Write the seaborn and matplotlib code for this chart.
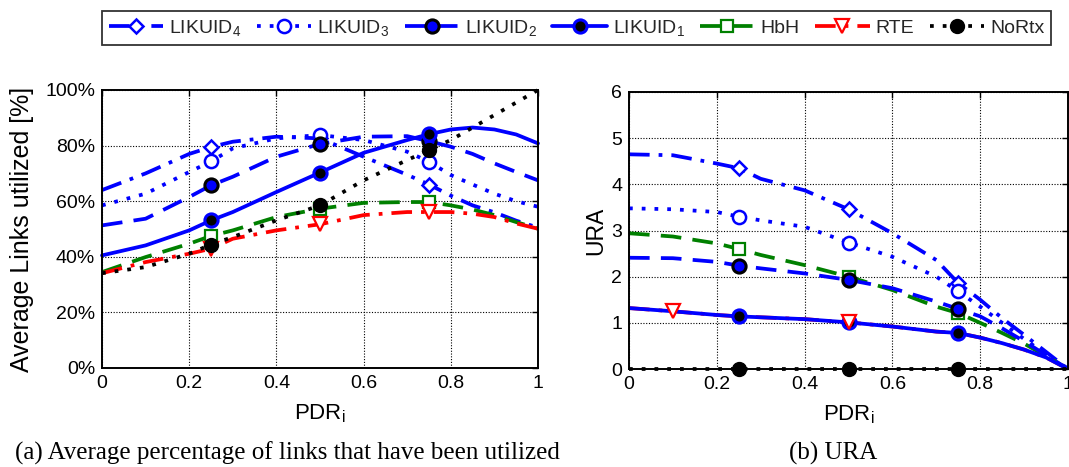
import numpy as np
import pandas as pd
import matplotlib
matplotlib.use("Agg")
import matplotlib.pyplot as plt
import seaborn as sns
from matplotlib.ticker import FuncFormatter

# ---------------- data ----------------
pdr = [0, 0.1, 0.2, 0.25, 0.3, 0.4, 0.5, 0.6, 0.7, 0.75, 0.8, 0.85, 0.9, 0.95, 1.0]

# (a) average links utilized [%]
links_likuid4 = [64, 70, 77, 79.5, 81.4, 83.2, 82.6, 76, 69.5, 66, 62, 58.5, 56, 53, 50.5]
links_likuid3 = [58.5, 62.7, 70.5, 74.3, 79, 82.6, 83.8, 82, 77.8, 74.2, 69.4, 66, 62.7, 60, 58]
links_likuid2 = [51.3, 53.7, 61.5, 65.7, 68.8, 76, 80.6, 83.2, 83.4, 81.6, 79.6, 77, 73.6, 70.5, 67.5]
links_likuid1 = [40.5, 44.1, 49.5, 53.1, 56.1, 63.3, 70.3, 77.4, 82, 84.1, 85.8, 86.5, 85.8, 84, 80.8]
links_hbh = [34.5, 39.9, 44.7, 47.5, 49.5, 54.3, 57.3, 59.4, 59.7, 59.7, 58.5, 57, 55, 52.5, 50.1]
links_rte = [34.1, 38.1, 41.1, 42.9, 46.5, 49.5, 51.7, 55, 56.1, 56.1, 56.1, 55.5, 54.3, 52, 50.1]
links_nortx = [34.1, 36.3, 41.1, 44.4, 47.1, 53.1, 58.5, 67.5, 74.8, 78.4, 82, 86.5, 91, 95.5, 100]

# (b) URA
ura_likuid4 = [4.65, 4.63, 4.45, 4.35, 4.12, 3.87, 3.46, 2.94, 2.36, 1.86, 1.5, 1.1, 0.74, 0.37, 0]
ura_likuid3 = [3.48, 3.46, 3.4, 3.3, 3.22, 3.08, 2.74, 2.43, 2.0, 1.68, 1.35, 1.0, 0.65, 0.32, 0]
ura_likuid2 = [2.41, 2.4, 2.32, 2.24, 2.18, 2.07, 1.93, 1.75, 1.46, 1.3, 1.14, 0.88, 0.6, 0.3, 0]
ura_likuid1 = [1.32, 1.25, 1.17, 1.14, 1.12, 1.08, 1.01, 0.92, 0.81, 0.78, 0.68, 0.56, 0.42, 0.25, 0]
ura_hbh = [2.94, 2.87, 2.72, 2.6, 2.47, 2.25, 2.0, 1.71, 1.35, 1.21, 1.0, 0.78, 0.55, 0.28, 0]
ura_rte = [1.32, 1.25, 1.17, 1.14, 1.12, 1.08, 1.01, 0.92, 0.81, 0.78, 0.68, 0.56, 0.42, 0.25, 0]
ura_nortx = [0, 0, 0, 0, 0, 0, 0, 0, 0, 0, 0, 0, 0, 0, 0]

series_names = ["LIKUID$_4$", "LIKUID$_3$", "LIKUID$_2$", "LIKUID$_1$", "HbH", "RTE", "NoRtx"]
x_ticks = [0, 0.2, 0.4, 0.6, 0.8, 1.0]
links_ticks = [0, 20, 40, 60, 80, 100]
ura_ticks = [0, 1, 2, 3, 4, 5, 6]

# ---------------- style ----------------
sns.set_theme(style="white")
plt.rcParams["font.family"] = ["Liberation Sans", "DejaVu Sans"]
plt.rcParams["mathtext.fontset"] = "custom"
plt.rcParams["mathtext.rm"] = "Liberation Sans"
plt.rcParams["mathtext.it"] = "Liberation Sans:italic"
plt.rcParams["mathtext.bf"] = "Liberation Sans:bold"

BLUE = "#0000FF"
GREEN = "#008000"
RED = "#FF0000"
BLACK = "#000000"
LW = 2.7

DASH = (0, (5.5, 3))
DOT = (0, (1, 2.4))
DASHDOT = (0, (5.5, 2.4, 1, 2.4))

styles = [
    dict(color=BLUE, linestyle=DASHDOT, marker="D", markersize=7.5, mfc="white", mec=BLUE, mew=1.8),
    dict(color=BLUE, linestyle=DOT, marker="o", markersize=9.5, mfc="white", mec=BLUE, mew=1.8),
    dict(color=BLUE, linestyle=DASH, marker="o", markersize=9.5, mfc=BLUE, mec=BLACK, mew=2.2),
    dict(color=BLUE, linestyle="-", marker="o", markersize=9.5, mfc=BLACK, mec=BLUE, mew=2.2),
    dict(color=GREEN, linestyle=DASH, marker="s", markersize=8, mfc="white", mec=GREEN, mew=1.6),
    dict(color=RED, linestyle=DASHDOT, marker="v", markersize=10, mfc="white", mec=RED, mew=1.6),
    dict(color=BLACK, linestyle=DOT, marker="o", markersize=10, mfc=BLACK, mec=BLACK, mew=1.0),
]

mk = [3, 6, 9]

W, H = 1069, 467
fig = plt.figure(figsize=(W / 100, H / 100), dpi=100)
axL = fig.add_axes([102 / W, 1 - 368 / H, 436 / W, 278 / H])
axR = fig.add_axes([629 / W, 1 - 369 / H, 439 / W, 277 / H])

links_data = [links_likuid4, links_likuid3, links_likuid2, links_likuid1, links_hbh, links_rte, links_nortx]
handles = []
for name, ys, st in zip(series_names, links_data, styles):
    sns.lineplot(x=pdr, y=ys, ax=axL, linewidth=LW, markevery=mk, label=name,
                 clip_on=False, legend=False, **st)
    handles.append(axL.get_lines()[-1])

# right panel
ura_main = [ura_likuid4, ura_likuid3, ura_likuid2, ura_likuid1, ura_hbh]
# RTE line lies underneath LIKUID1
sns.lineplot(x=pdr, y=ura_rte, ax=axR, linewidth=LW, color=RED, linestyle=DASHDOT,
             zorder=1.5, legend=False)
order = [0, 1, 4, 2, 3]
for i in order:
    sns.lineplot(x=pdr, y=ura_main[i], ax=axR, linewidth=LW, markevery=mk,
                 clip_on=True, legend=False, zorder=2, **styles[i])
st = dict(styles[5]); st["linestyle"] = "none"
sns.lineplot(x=pdr, y=ura_rte, ax=axR, markevery=[1, 6], legend=False, zorder=3, **st)
sns.lineplot(x=pdr, y=ura_nortx, ax=axR, linewidth=LW, markevery=mk, clip_on=False,
             legend=False, zorder=3, **styles[6])

for ax in (axL, axR):
    ax.set_xlim(0, 1)
    ax.set_xticks(x_ticks)
    ax.xaxis.set_major_formatter(FuncFormatter(lambda v, p: "%g" % v))
    ax.tick_params(direction="in", top=True, right=True, length=4, width=1,
                   labelsize=14, pad=5, colors="black")
    ax.grid(True, color="black", linestyle=(0, (1, 1.5)), linewidth=0.8)
    for s in ax.spines.values():
        s.set_color("black")
        s.set_linewidth(1.4)
    ax.set_xlabel("PDR$_\\mathrm{i}$", fontsize=16, color="black")
    ax.set_axisbelow(True)

axL.set_ylim(0, 100)
axL.set_yticks(links_ticks)
axL.yaxis.set_major_formatter(FuncFormatter(lambda v, p: "%d%%" % v))
axL.set_ylabel("Average Links utilized [%]", fontsize=18, color="black")
axL.yaxis.set_label_coords(-0.155, 0.5)
axL.xaxis.set_label_coords(0.5, -0.125)

axR.set_ylim(0, 6)
axR.set_yticks(ura_ticks)
axR.set_ylabel("URA", fontsize=16.5, color="black")
axR.yaxis.set_label_coords(-0.05, 0.5)
axR.xaxis.set_label_coords(0.5, -0.125)

leg = fig.legend(handles, series_names, loc="center", bbox_to_anchor=(576.5 / W, 1 - 28 / H),
                 ncol=7, frameon=True, fancybox=False, edgecolor="black", fontsize=14,
                 handlelength=2.8, handletextpad=0.3, columnspacing=0.8, borderpad=0.35,
                 borderaxespad=0)
leg.get_frame().set_linewidth(1.3)

fig.text(15 / W, 1 - 460 / H, "(a) Average percentage of links that have been utilized",
         family="Liberation Serif", fontsize=18, va="baseline", ha="left", color="black")
fig.text(789 / W, 1 - 460 / H, "(b) URA", family="Liberation Serif", fontsize=18,
         va="baseline", ha="left", color="black")

fig.savefig("out.png", dpi=100, facecolor="white")
